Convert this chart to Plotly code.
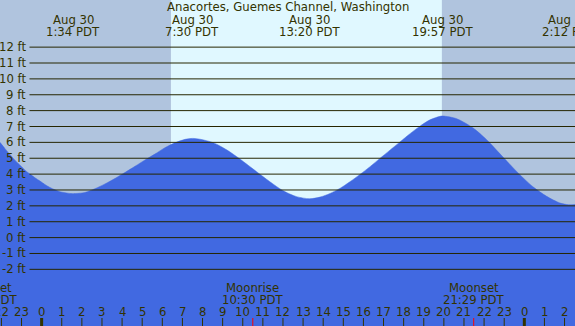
import plotly.graph_objects as go

# ---- data (hours since Aug 30 00:00 PDT) ----
tide_hours = [-2.07, -1.83, -1.58, -1.33, -1.08, -0.83, -0.58, -0.33, -0.08, 0.16,
              0.41, 0.66, 0.91, 1.41, 1.57, 2.15, 2.65, 3.15, 3.64, 4.14, 4.64,
              5.14, 5.63, 6.13, 6.63, 7.13, 7.50, 7.87, 8.53, 9.20, 9.86, 10.69,
              11.35, 12.01, 12.68, 13.33, 13.84, 14.34, 14.83, 15.33, 15.83, 16.33,
              16.82, 17.32, 17.82, 18.32, 18.81, 19.31, 19.81, 19.95, 20.64, 21.46,
              22.13, 22.95, 23.78, 24.45, 25.11, 25.77, 26.20, 26.52]
tide_heights = [6.00, 5.62, 5.24, 4.88, 4.57, 4.25, 4.00, 3.77, 3.56, 3.35,
                3.16, 3.01, 2.89, 2.78, 2.77, 2.84, 3.08, 3.38, 3.72, 4.10, 4.49,
                4.89, 5.26, 5.66, 5.97, 6.19, 6.25, 6.20, 5.98, 5.53, 4.95, 4.15,
                3.52, 2.95, 2.58, 2.45, 2.55, 2.78, 3.10, 3.52, 3.98, 4.47,
                4.99, 5.51, 6.03, 6.55, 7.02, 7.42, 7.64, 7.66, 7.49, 6.90,
                6.16, 5.06, 3.96, 3.18, 2.60, 2.18, 2.07, 2.08]

extreme_hours = [1.567, 7.5, 13.333, 19.95, 26.2]
extreme_dates = ["Aug 30", "Aug 30", "Aug 30", "Aug 30", "Aug 31"]
extreme_times = ["1:34 PDT", "7:30 PDT", "13:20 PDT", "19:57 PDT", "2:12 PDT"]

sunrise_hour = 6.43
sunset_hour = 19.9

moon_hours = [-2.74, 10.5, 21.483]
moon_events = ["Moonset", "Moonrise", "Moonset"]
moon_times = ["21:16 PDT", "10:30 PDT", "21:29 PDT"]

hour_ticks = list(range(-2, 27))
hour_labels = [str(h % 24) for h in hour_ticks]

ft_ticks = list(range(-2, 13))
ft_labels = [f"{v} ft" for v in ft_ticks]

title_text = "Anacortes, Guemes Channel, Washington"

# ---- styling ----
W, H = 575, 326
X_RANGE = [-2.07, 26.52]
Y_RANGE = [-5.57, 14.97]
NIGHT = "#B0C4DE"
DAY = "#E0F8FF"
WATER = "#4169E1"
INK = "#333300"
GRID = "#262600"
FONT = "DejaVu Sans"
FS = 11.7


def px_x(h):
    return (h - X_RANGE[0]) / (X_RANGE[1] - X_RANGE[0])


def py(ypx):
    return (H - ypx) / H


fig = go.Figure()
fig.add_trace(go.Scatter(x=X_RANGE, y=[Y_RANGE[0] - 1] * 2, mode="lines",
                         line=dict(width=0, color=WATER), hoverinfo="skip",
                         showlegend=False))
fig.add_trace(go.Scatter(x=tide_hours, y=tide_heights, mode="lines",
                         fill="tonexty", fillcolor=WATER,
                         line=dict(color=WATER, width=0.5, shape="spline", smoothing=0.8),
                         showlegend=False))

shapes = []
# day shading
shapes.append(dict(type="rect", xref="x", yref="paper", x0=sunrise_hour, x1=sunset_hour,
                   y0=0, y1=1, fillcolor=DAY, line=dict(width=0), layer="below"))
# grid lines
for v in ft_ticks:
    shapes.append(dict(type="line", xref="paper", yref="y", x0=29.5 / W, x1=1,
                       y0=v, y1=v, line=dict(color=GRID, width=1), layer="above"))
# hour ticks
for h in hour_ticks:
    shapes.append(dict(type="line", xref="x", yref="paper", x0=h, x1=h,
                       y0=0, y1=8 / H,
                       line=dict(color=INK, width=3 if h % 24 == 0 else 1),
                       layer="above"))
# moon ticks
for h in moon_hours:
    shapes.append(dict(type="line", xref="x", yref="paper", x0=h, x1=h,
                       y0=0, y1=8 / H, line=dict(color="red", width=1),
                       layer="above"))

ann = []
ann.append(dict(text=title_text, xref="paper", yref="paper", x=0.5, y=py(7),
                xanchor="center", yanchor="middle", showarrow=False,
                font=dict(family=FONT, size=FS, color=INK)))
for h, d, t in zip(extreme_hours, extreme_dates, extreme_times):
    ann.append(dict(text=d, xref="paper", yref="paper", x=px_x(h), y=py(20),
                    xanchor="center", yanchor="middle", showarrow=False,
                    font=dict(family=FONT, size=FS, color=INK)))
    ann.append(dict(text=t, xref="paper", yref="paper", x=px_x(h), y=py(32),
                    xanchor="center", yanchor="middle", showarrow=False,
                    font=dict(family=FONT, size=FS, color=INK)))
for v, lab in zip(ft_ticks, ft_labels):
    ann.append(dict(text=lab, xref="paper", yref="y", x=27.5 / W, y=v,
                    xanchor="right", yanchor="middle", showarrow=False,
                    font=dict(family=FONT, size=FS, color=INK)))
for h, lab in zip(hour_ticks, hour_labels):
    ann.append(dict(text=lab, xref="paper", yref="paper", x=px_x(h), y=py(312),
                    xanchor="center", yanchor="middle", showarrow=False,
                    font=dict(family=FONT, size=FS, color=INK)))
for h, e, t in zip(moon_hours, moon_events, moon_times):
    ann.append(dict(text=e, xref="paper", yref="paper", x=px_x(h), y=py(288),
                    xanchor="center", yanchor="middle", showarrow=False,
                    font=dict(family=FONT, size=FS, color=INK)))
    ann.append(dict(text=t, xref="paper", yref="paper", x=px_x(h), y=py(300),
                    xanchor="center", yanchor="middle", showarrow=False,
                    font=dict(family=FONT, size=FS, color=INK)))

fig.update_layout(
    width=W, height=H, margin=dict(l=0, r=0, t=0, b=0),
    paper_bgcolor=NIGHT, plot_bgcolor=NIGHT,
    xaxis=dict(range=X_RANGE, visible=False, fixedrange=True),
    yaxis=dict(range=Y_RANGE, visible=False, fixedrange=True),
    shapes=shapes, annotations=ann, showlegend=False,
)

fig.write_html("out.html", config={"displayModeBar": False},
               post_script="document.body.style.margin='0';document.body.style.overflow='hidden';")
